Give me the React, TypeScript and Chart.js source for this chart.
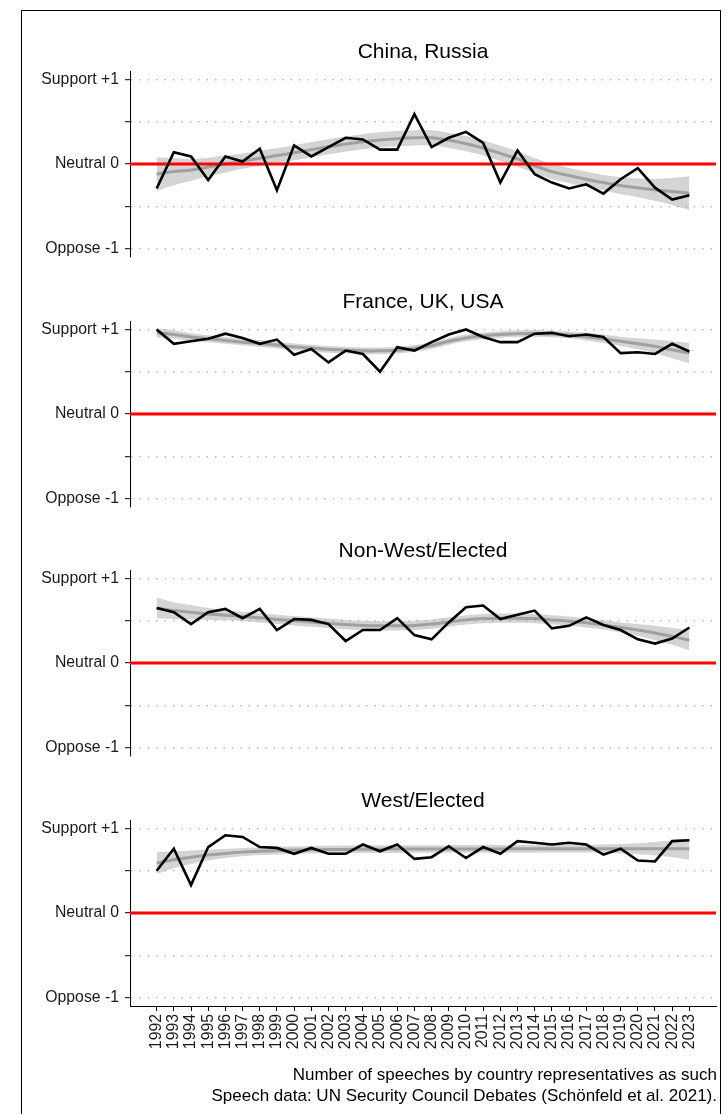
import React, { useEffect, useRef } from "react";
import { Chart, registerables } from "chart.js";

Chart.register(...registerables);

const YEARS = [1992, 1993, 1994, 1995, 1996, 1997, 1998, 1999, 2000, 2001, 2002, 2003, 2004, 2005, 2006, 2007, 2008, 2009, 2010, 2011, 2012, 2013, 2014, 2015, 2016, 2017, 2018, 2019, 2020, 2021, 2022, 2023];

const Y_TICKS = [-1, -0.5, 0, 0.5, 1];
const Y_LABELS: Record<string, string> = { "1": "Support +1", "0": "Neutral 0", "-1": "Oppose -1" };

const PANEL_TITLES = ["China, Russia", "France, UK, USA", "Non-West/Elected", "West/Elected"];

// China, Russia
const CR_VALUES = [-0.29, 0.14, 0.09, -0.19, 0.09, 0.03, 0.18, -0.31, 0.22, 0.09, 0.2, 0.31, 0.29, 0.17, 0.17, 0.59, 0.2, 0.31, 0.38, 0.25, -0.22, 0.16, -0.12, -0.22, -0.29, -0.24, -0.35, -0.18, -0.05, -0.28, -0.42, -0.37];
const CR_SMOOTH = [-0.12, -0.09, -0.07, -0.035, 0.0, 0.035, 0.067, 0.1, 0.133, 0.17, 0.204, 0.235, 0.263, 0.285, 0.3, 0.31, 0.31, 0.28, 0.24, 0.19, 0.125, 0.06, -0.02, -0.09, -0.137, -0.18, -0.22, -0.255, -0.282, -0.306, -0.325, -0.345];
const CR_UPPER = [0.08, 0.07, 0.06, 0.075, 0.1, 0.125, 0.157, 0.19, 0.223, 0.26, 0.294, 0.325, 0.353, 0.375, 0.39, 0.4, 0.4, 0.37, 0.33, 0.28, 0.215, 0.15, 0.07, 0.0, -0.047, -0.09, -0.13, -0.155, -0.172, -0.176, -0.165, -0.145];
const CR_LOWER = [-0.32, -0.25, -0.2, -0.145, -0.1, -0.055, -0.023, 0.01, 0.043, 0.08, 0.114, 0.145, 0.173, 0.195, 0.21, 0.22, 0.22, 0.19, 0.15, 0.1, 0.035, -0.03, -0.11, -0.18, -0.227, -0.27, -0.31, -0.355, -0.392, -0.436, -0.485, -0.545];

// France, UK, USA
const P3_VALUES = [1.0, 0.83, 0.86, 0.89, 0.95, 0.9, 0.83, 0.88, 0.7, 0.77, 0.61, 0.75, 0.71, 0.5, 0.79, 0.75, 0.85, 0.94, 1.0, 0.91, 0.85, 0.85, 0.95, 0.96, 0.92, 0.94, 0.91, 0.72, 0.73, 0.71, 0.83, 0.74];
const P3_SMOOTH = [0.96, 0.94, 0.91, 0.89, 0.87, 0.85, 0.835, 0.815, 0.795, 0.78, 0.765, 0.755, 0.747, 0.748, 0.755, 0.775, 0.81, 0.86, 0.9, 0.925, 0.94, 0.95, 0.953, 0.945, 0.935, 0.915, 0.89, 0.86, 0.83, 0.8, 0.76, 0.72];
const P3_UPPER = [1.015, 0.99, 0.955, 0.93, 0.91, 0.89, 0.875, 0.855, 0.835, 0.82, 0.805, 0.795, 0.787, 0.788, 0.795, 0.815, 0.85, 0.9, 0.94, 0.965, 0.98, 0.99, 0.993, 0.985, 0.975, 0.96, 0.94, 0.915, 0.895, 0.88, 0.86, 0.84];
const P3_LOWER = [0.905, 0.89, 0.865, 0.85, 0.83, 0.81, 0.795, 0.775, 0.755, 0.74, 0.725, 0.715, 0.707, 0.708, 0.715, 0.735, 0.77, 0.82, 0.86, 0.885, 0.9, 0.91, 0.913, 0.905, 0.895, 0.87, 0.84, 0.805, 0.765, 0.72, 0.66, 0.6];

// Non-West/Elected
const NWE_VALUES = [0.65, 0.6, 0.46, 0.6, 0.64, 0.53, 0.64, 0.39, 0.52, 0.51, 0.46, 0.26, 0.39, 0.39, 0.53, 0.33, 0.28, 0.48, 0.66, 0.68, 0.52, 0.57, 0.62, 0.41, 0.44, 0.54, 0.45, 0.39, 0.28, 0.23, 0.29, 0.42];
const NWE_SMOOTH = [0.65, 0.62, 0.6, 0.58, 0.565, 0.55, 0.535, 0.515, 0.5, 0.485, 0.47, 0.455, 0.445, 0.44, 0.44, 0.445, 0.46, 0.485, 0.51, 0.525, 0.53, 0.53, 0.525, 0.51, 0.495, 0.475, 0.45, 0.42, 0.39, 0.355, 0.315, 0.27];
const NWE_UPPER = [0.775, 0.72, 0.685, 0.65, 0.625, 0.605, 0.59, 0.57, 0.555, 0.54, 0.525, 0.51, 0.5, 0.495, 0.495, 0.5, 0.515, 0.54, 0.565, 0.58, 0.585, 0.585, 0.58, 0.565, 0.55, 0.53, 0.505, 0.48, 0.46, 0.44, 0.415, 0.39];
const NWE_LOWER = [0.525, 0.52, 0.515, 0.51, 0.505, 0.495, 0.48, 0.46, 0.445, 0.43, 0.415, 0.4, 0.39, 0.385, 0.385, 0.39, 0.405, 0.43, 0.455, 0.47, 0.475, 0.475, 0.47, 0.455, 0.44, 0.42, 0.395, 0.36, 0.32, 0.27, 0.215, 0.15];

// West/Elected
const WE_VALUES = [0.5, 0.76, 0.33, 0.78, 0.92, 0.9, 0.78, 0.77, 0.7, 0.77, 0.7, 0.7, 0.81, 0.73, 0.81, 0.64, 0.66, 0.79, 0.65, 0.78, 0.7, 0.85, 0.83, 0.81, 0.83, 0.81, 0.69, 0.76, 0.62, 0.61, 0.85, 0.86];
const WE_SMOOTH = [0.59, 0.63, 0.66, 0.685, 0.705, 0.72, 0.73, 0.738, 0.744, 0.748, 0.75, 0.752, 0.754, 0.755, 0.756, 0.756, 0.757, 0.757, 0.758, 0.758, 0.758, 0.759, 0.759, 0.76, 0.76, 0.76, 0.76, 0.76, 0.76, 0.76, 0.76, 0.76];
const WE_UPPER = [0.72, 0.73, 0.74, 0.75, 0.76, 0.77, 0.775, 0.783, 0.789, 0.793, 0.795, 0.797, 0.799, 0.8, 0.801, 0.801, 0.802, 0.802, 0.803, 0.803, 0.803, 0.804, 0.804, 0.805, 0.805, 0.805, 0.81, 0.815, 0.825, 0.84, 0.86, 0.88];
const WE_LOWER = [0.46, 0.53, 0.58, 0.62, 0.65, 0.67, 0.685, 0.693, 0.699, 0.703, 0.705, 0.707, 0.709, 0.71, 0.711, 0.711, 0.712, 0.712, 0.713, 0.713, 0.713, 0.714, 0.714, 0.715, 0.715, 0.715, 0.71, 0.705, 0.695, 0.68, 0.66, 0.63];

const CAPTION_LINES = [
  "Number of speeches by country representatives as such",
  "Speech data: UN Security Council Debates (Schönfeld et al. 2021).",
];

const FONT = "'Liberation Sans', Arial, Helvetica, sans-serif";

const PANELS = [
  { title: PANEL_TITLES[0], values: CR_VALUES, smooth: CR_SMOOTH, upper: CR_UPPER, lower: CR_LOWER },
  { title: PANEL_TITLES[1], values: P3_VALUES, smooth: P3_SMOOTH, upper: P3_UPPER, lower: P3_LOWER },
  { title: PANEL_TITLES[2], values: NWE_VALUES, smooth: NWE_SMOOTH, upper: NWE_UPPER, lower: NWE_LOWER },
  { title: PANEL_TITLES[3], values: WE_VALUES, smooth: WE_SMOOTH, upper: WE_UPPER, lower: WE_LOWER },
];

// layout (pixels)
const PAD_TOP = 40;
const PAD_BOTTOM = 16;
const PLOT_H = 186;
const ZERO_Y = [164, 413.6, 663.2, 912.8];
const X_AXIS_H = 70;

const panelTitlePlugin = {
  id: "panelTitle",
  afterDraw(chart: any, _args: any, opts: any) {
    const { ctx, chartArea } = chart;
    ctx.save();
    ctx.font = `${opts.size}px ${FONT}`;
    ctx.fillStyle = "#000";
    ctx.textAlign = "center";
    ctx.textBaseline = "middle";
    ctx.fillText(opts.text, (chartArea.left + chartArea.right) / 2, chartArea.top - opts.offset);
    ctx.restore();
  },
};

const zeroLinePlugin = {
  id: "zeroLine",
  afterDatasetDraw(chart: any, args: any) {
    if (args.index !== 1) return;
    const { ctx, chartArea } = chart;
    const y = chart.scales.y.getPixelForValue(0);
    ctx.save();
    ctx.strokeStyle = "#ff0000";
    ctx.lineWidth = 3;
    ctx.beginPath();
    ctx.moveTo(chartArea.left, y);
    ctx.lineTo(chartArea.right, y);
    ctx.stroke();
    ctx.restore();
  },
};

function pts(arr: number[]) {
  return YEARS.map((yr, i) => ({ x: yr, y: arr[i] }));
}

function Panel({ idx }: { idx: number }) {
  const ref = useRef<HTMLCanvasElement>(null);
  const p = PANELS[idx];
  const showX = idx === PANELS.length - 1;
  const height = PAD_TOP + PLOT_H + (showX ? X_AXIS_H : PAD_BOTTOM);
  const top = ZERO_Y[idx] - PLOT_H / 2 - PAD_TOP;

  useEffect(() => {
    if (!ref.current) return;
    const chart = new Chart(ref.current, {
      type: "line",
      data: {
        datasets: [
          { data: pts(p.values), borderColor: "#000000", borderWidth: 2.6, pointRadius: 0, fill: false, tension: 0 },
          { data: pts(p.smooth), borderColor: "#a0a0a0", borderWidth: 3, pointRadius: 0, fill: false, tension: 0.3 },
          { data: pts(p.upper), borderColor: "rgba(0,0,0,0)", borderWidth: 0, backgroundColor: "rgba(153,153,153,0.42)", pointRadius: 0, fill: "+1", tension: 0.3 },
          { data: pts(p.lower), borderColor: "rgba(0,0,0,0)", borderWidth: 0, pointRadius: 0, fill: false, tension: 0.3 },
        ],
      },
      options: {
        animation: false,
        responsive: false,
        events: [],
        layout: { padding: { left: 0, right: 12, top: PAD_TOP, bottom: showX ? 0 : PAD_BOTTOM } },
        plugins: {
          legend: { display: false },
          tooltip: { enabled: false },
          panelTitle: { text: p.title, size: 21, offset: 19 },
        } as any,
        scales: {
          x: {
            type: "linear",
            min: 1990.45,
            max: 2024.55,
            display: showX,
            afterBuildTicks: (s: any) => {
              s.ticks = YEARS.map((v) => ({ value: v }));
            },
            afterFit: (s: any) => {
              if (showX) s.height = X_AXIS_H;
            },
            ticks: {
              autoSkip: false,
              minRotation: 90,
              maxRotation: 90,
              padding: 3,
              color: "#1a1a1a",
              font: { family: FONT, size: 15.8 },
              callback: (v: any) => String(v),
            },
            grid: { drawOnChartArea: false, drawTicks: true, tickLength: 5, tickColor: "#000", tickWidth: 1 },
            border: { display: true, color: "#000", width: 1 },
          },
          y: {
            type: "linear",
            min: -1.1,
            max: 1.1,
            afterBuildTicks: (s: any) => {
              s.ticks = Y_TICKS.map((v) => ({ value: v }));
            },
            afterFit: (s: any) => {
              s.width = 130;
            },
            ticks: {
              autoSkip: false,
              padding: 6,
              color: "#1a1a1a",
              font: { family: FONT, size: 15.8 },
              callback: (v: any) => Y_LABELS[String(v)] ?? "",
            },
            grid: {
              color: "#b5b5b5",
              lineWidth: 1.4,
              drawTicks: true,
              tickLength: 5,
              tickColor: "#000",
              tickWidth: 1,
              tickBorderDash: [],
            },
            border: { display: true, color: "#000", width: 1, dash: [1.4, 7] },
          },
        },
      },
      plugins: [panelTitlePlugin, zeroLinePlugin],
    });
    return () => chart.destroy();
  }, []);

  return (
    <canvas
      ref={ref}
      width={728}
      height={height}
      style={{ position: "absolute", left: 0, top, width: 728, height }}
    />
  );
}

export default function App() {
  return (
    <div style={{ position: "absolute", left: 0, top: 0, width: 728, height: 1114, overflow: "hidden", background: "#fff" }}>
      <div style={{ position: "absolute", left: 21, top: 10, width: 700, height: 1200, border: "1px solid #000", boxSizing: "border-box" }} />
      {PANELS.map((_, i) => (
        <Panel key={i} idx={i} />
      ))}
      <div
        style={{
          position: "absolute",
          right: 11,
          top: 1064,
          textAlign: "right",
          fontFamily: FONT,
          fontSize: 17,
          lineHeight: "21px",
          color: "#000",
          whiteSpace: "nowrap",
        }}
      >
        {CAPTION_LINES.map((l, i) => (
          <div key={i}>{l}</div>
        ))}
      </div>
    </div>
  );
}
